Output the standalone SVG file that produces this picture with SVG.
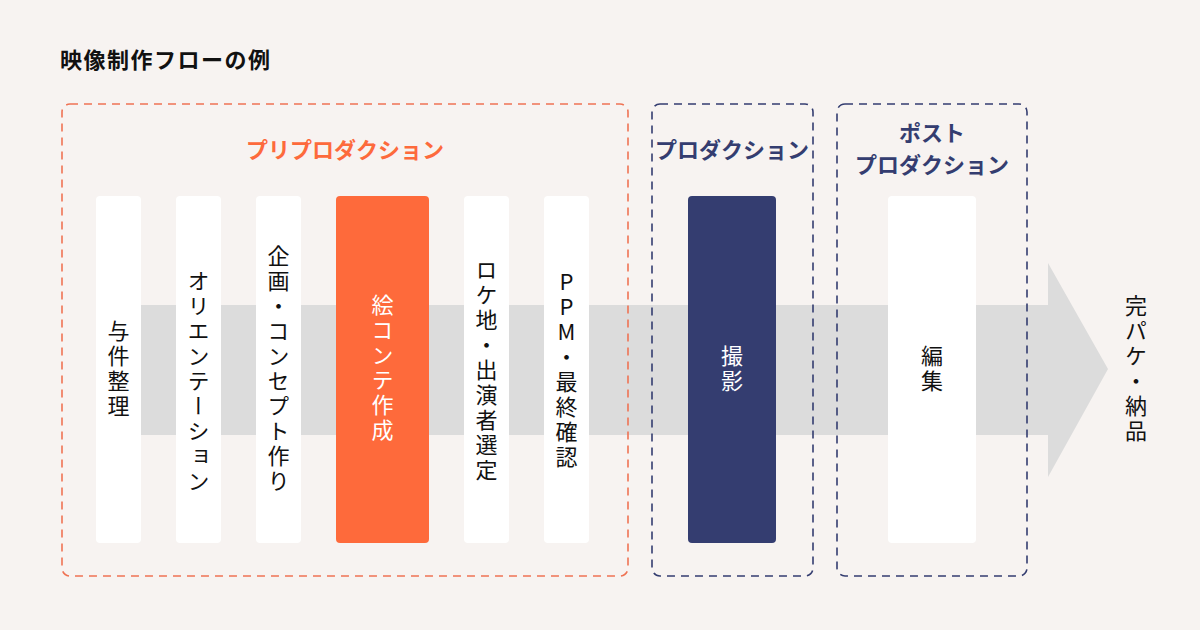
<svg xmlns="http://www.w3.org/2000/svg" width="1200" height="630" viewBox="0 0 1200 630">
<style>
.bg{fill:#f7f3f1}
.phase-o{fill:none;stroke:#ef7354;stroke-width:1.6;stroke-dasharray:8 6}
.phase-n{fill:none;stroke:#343d70;stroke-width:1.6;stroke-dasharray:8 6}
.step{fill:#ffffff}
.t{font-family:"Noto Sans CJK JP","Noto Sans",sans-serif}
.vt{font-family:"Noto Sans CJK JP","Noto Sans",sans-serif;font-size:22px;writing-mode:vertical-rl;text-orientation:upright;text-anchor:middle;letter-spacing:3px;fill:#111}
.head{font-size:22px;font-weight:700;text-anchor:middle}
</style>
<rect class="bg" x="0" y="0" width="1200" height="630"/>
<text class="t" x="60" y="68" font-size="22" font-weight="700" letter-spacing="1.5" fill="#111">映像制作フローの例</text>
<g id="connectors">
<polygon points="120,305 1048,305 1048,263 1108,369 1048,477 1048,435 120,435" fill="#dcdcdc"/>
</g>
<g id="preproduction">
<rect class="phase-o" x="62" y="104" width="566" height="472" rx="8"/>
<text class="t head" x="345" y="158" fill="#fd6a3c">プリプロダクション</text>
</g>
<g id="production">
<rect class="phase-n" x="652" y="104" width="161" height="472" rx="8"/>
<text class="t head" x="732" y="158" fill="#343d70">プロダクション</text>
</g>
<g id="postproduction">
<rect class="phase-n" x="837" y="104" width="190" height="472" rx="8"/>
<text class="t head" x="932" y="141" fill="#343d70">ポスト</text>
<text class="t head" x="932" y="173" fill="#343d70">プロダクション</text>
</g>
<g id="step1"><rect class="step" x="96" y="196" width="45" height="347" rx="4"/><text class="vt" x="118.5" y="370">与件整理</text></g>
<g id="step2"><rect class="step" x="176" y="196" width="45" height="347" rx="4"/><text class="vt" x="198.5" y="382">オリエンテーション</text></g>
<g id="step3"><rect class="step" x="256" y="196" width="45" height="347" rx="4"/><text class="vt" x="278.5" y="370">企画・コンセプト作り</text></g>
<g id="step4"><rect x="336" y="196" width="93" height="347" rx="4" fill="#fe6a3b"/><text class="vt" x="382.5" y="369" style="fill:#fff">絵コンテ作成</text></g>
<g id="step5"><rect class="step" x="464" y="196" width="45" height="347" rx="4"/><text class="vt" x="486.5" y="371">ロケ地・出演者選定</text></g>
<g id="step6"><rect class="step" x="544" y="196" width="45" height="347" rx="4"/><text class="vt" x="566.5" y="371">PPM・最終確認</text></g>
<g id="step7"><rect x="688" y="196" width="88" height="347" rx="4" fill="#343d70"/><text class="vt" x="732" y="370" style="fill:#fff">撮影</text></g>
<g id="step8"><rect class="step" x="888" y="196" width="88" height="347" rx="4"/><text class="vt" x="932" y="370">編集</text></g>
<g id="delivery"><text class="vt" x="1136" y="370">完パケ・納品</text></g>
</svg>
